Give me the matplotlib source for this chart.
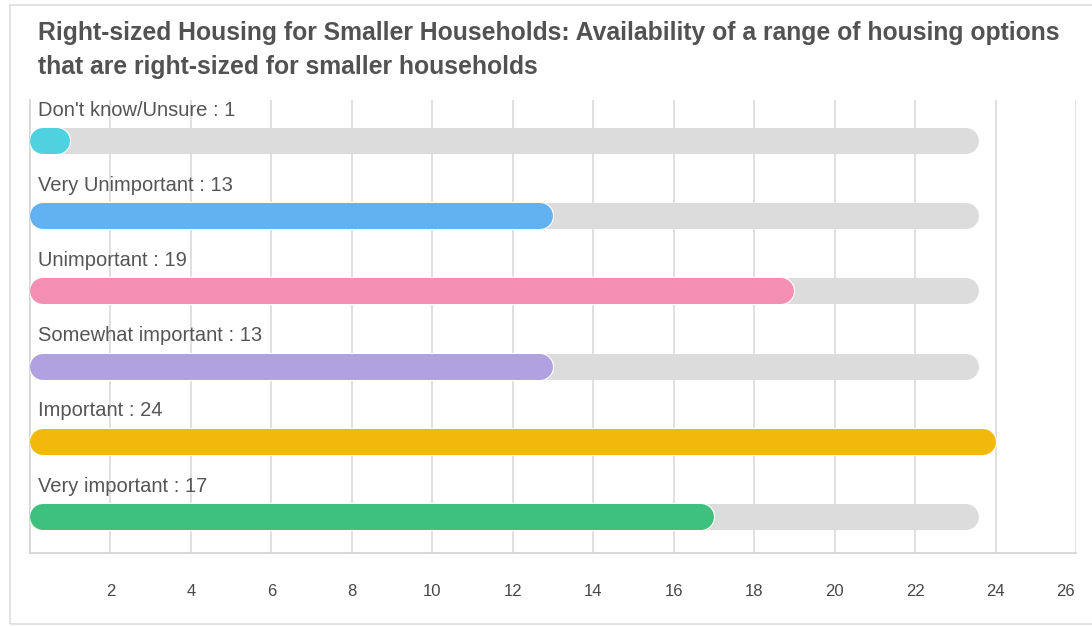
import matplotlib
matplotlib.use("Agg")
import matplotlib.pyplot as plt
import matplotlib.patheffects as pe
from matplotlib.patches import Rectangle
from matplotlib.transforms import ScaledTranslation

plt.rcParams["font.family"] = ["Liberation Sans", "DejaVu Sans"]

# Survey responses
categories = ["Don't know/Unsure", "Very Unimportant", "Unimportant",
              "Somewhat important", "Important", "Very important"]
counts = [1, 13, 19, 13, 24, 17]
colors = ["#4fd1e0", "#62b2f2", "#f28fb2", "#b0a2e0", "#f2b90c", "#3ec07e"]
tick_values = [2, 4, 6, 8, 10, 12, 14, 16, 18, 20, 22, 24, 26]

title = ("Right-sized Housing for Smaller Households: Availability of a range of housing options\n"
         "that are right-sized for smaller households")

W, H, DPI = 1092, 627, 100
fig = plt.figure(figsize=(W / DPI, H / DPI), dpi=DPI)

# outer card border
fig.patches.append(Rectangle((10 / W, 3 / H), 1.2, 1 - 8 / H, transform=fig.transFigure,
                             fill=False, edgecolor="#dddddd", linewidth=1.2))

ax_left, ax_right, ax_top, ax_bottom = 30, 1076, 100, 553
ax = fig.add_axes([ax_left / W, 1 - ax_bottom / H,
                   (ax_right - ax_left) / W, (ax_bottom - ax_top) / H])

xmax = 26
ax.set_xlim(0, xmax)
ax.set_ylim(5.48, -0.545)

px_per_unit = (ax_right - ax_left) / xmax
bar_px = 26
lw_pt = bar_px * 72 / DPI
r = (bar_px / 2) / px_per_unit          # cap radius in data units
track_end = 23.6                         # right end of the grey track

for i, (cat, val, col) in enumerate(zip(categories, counts, colors)):
    ax.plot([r, track_end - r], [i, i], color="#dcdcdc", linewidth=lw_pt,
            solid_capstyle="round", zorder=2)
    ax.plot([r, val - r], [i, i], color=col, linewidth=lw_pt,
            solid_capstyle="round", zorder=3,
            path_effects=[pe.Stroke(linewidth=lw_pt + 1.6, foreground="white"), pe.Normal()])
    ax.text(8 / px_per_unit, i - 0.41, f"{cat} : {val}", fontsize=14.5,
            color="#555555", va="center", ha="left", zorder=4)

ax.set_xticks(tick_values)
ax.set_xticklabels([str(t) for t in tick_values])
ax.set_yticks([])
ax.tick_params(axis="x", length=0, pad=22, labelsize=12, labelcolor="#474747")
# keep the last tick label inside the card
last = ax.get_xticklabels()[-1]
last.set_transform(last.get_transform() + ScaledTranslation(-11 / DPI, 0, fig.dpi_scale_trans))

ax.grid(axis="x", color="#dddddd", linewidth=1.3, zorder=0)
ax.set_axisbelow(True)
for s in ["top", "right"]:
    ax.spines[s].set_visible(False)
for s in ["left", "bottom"]:
    ax.spines[s].set_color("#d6d6d6")
    ax.spines[s].set_linewidth(1.3)

fig.text(38 / W, 1 - 50 / H, title, fontsize=17.8, fontweight="bold", color="#525252",
         ha="left", va="center", linespacing=1.52)

fig.savefig("out.png", dpi=DPI, facecolor="white")
